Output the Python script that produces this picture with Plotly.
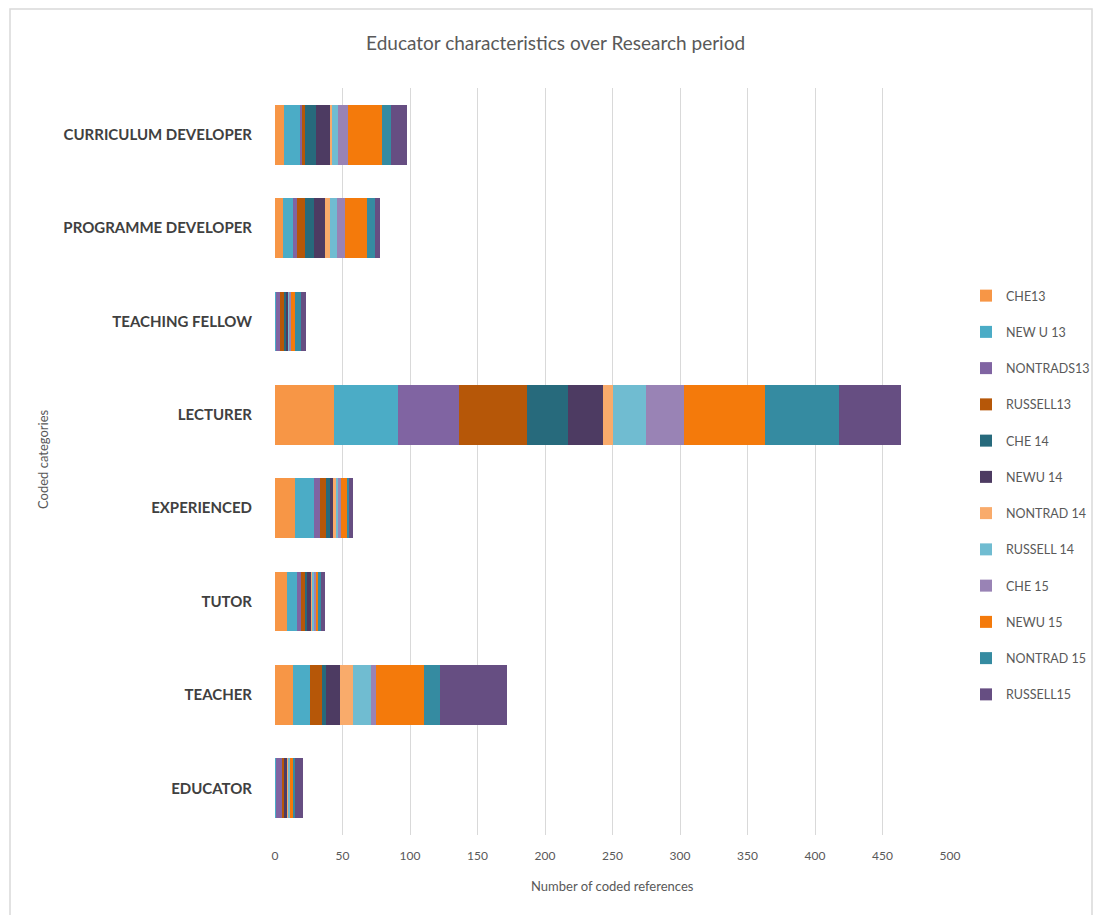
import plotly.graph_objects as go

categories = ["CURRICULUM DEVELOPER", "PROGRAMME DEVELOPER", "TEACHING FELLOW", "LECTURER",
              "EXPERIENCED", "TUTOR", "TEACHER", "EDUCATOR"]

series_names = ["CHE13", "NEW U 13", "NONTRADS13", "RUSSELL13", "CHE 14", "NEWU 14",
                "NONTRAD 14", "RUSSELL 14", "CHE 15", "NEWU 15", "NONTRAD 15", "RUSSELL15"]

# values per category, in the order of `categories`
che13      = [7, 6, 0, 44, 15, 9, 13, 0]
newu13     = [12, 7, 1, 47, 14, 7, 13, 1]
nontrads13 = [1, 3, 3, 45, 4, 3, 0, 4]
russell13  = [2, 6, 3, 51, 5, 3, 9, 2]
che14      = [8, 7, 1, 30, 3, 2, 3, 0]
newu14     = [11, 8, 2, 26, 2, 3, 10, 2]
nontrad14  = [1, 4, 0, 7, 2, 1, 10, 1]
russell14  = [5, 5, 1, 25, 2, 1, 13, 1]
che15      = [7, 6, 1, 28, 2, 1, 4, 0]
newu15     = [25, 16, 3, 60, 5, 2, 35, 2]
nontrad15  = [7, 6, 4, 55, 1, 2, 12, 2]
russell15  = [12, 4, 4, 46, 3, 3, 50, 6]

series_values = [che13, newu13, nontrads13, russell13, che14, newu14,
                 nontrad14, russell14, che15, newu15, nontrad15, russell15]

colors = ["#F79646", "#4BACC6", "#8064A2", "#B65708", "#276A7C", "#4D3B62",
          "#F9AB6B", "#70BCD1", "#9983B5", "#F47A0B", "#358BA1", "#664E82"]

x_ticks = [0, 50, 100, 150, 200, 250, 300, 350, 400, 450, 500]

FONT = "Lato, 'Open Sans', sans-serif"
GRAY = "#595959"

fig = go.Figure()
for name, vals, col in zip(series_names, series_values, colors):
    fig.add_trace(go.Bar(
        y=categories, x=vals, name=name, orientation="h",
        marker=dict(color=col, line=dict(width=0)),
        legendgroup=name,
    ))

fig.update_layout(
    barmode="stack",
    bargap=0.36,
    width=1098, height=915,
    paper_bgcolor="white", plot_bgcolor="white",
    margin=dict(l=275, r=148, t=88, b=80, autoexpand=False),
    font=dict(family=FONT, color=GRAY, size=12),
    title=dict(text="Educator characteristics over Research period",
               x=0.506, xref="container", xanchor="center",
               y=1 - 43 / 915, yref="container", yanchor="middle",
               font=dict(size=19, color=GRAY, family=FONT)),
    showlegend=True,
    legend=dict(xref="container", x=966 / 1098, xanchor="left",
                yref="container", y=1 - 281 / 915, yanchor="top",
                traceorder="grouped", tracegroupgap=17,
                font=dict(size=12.5, color=GRAY, family=FONT),
                itemwidth=30, bgcolor="rgba(0,0,0,0)"),
    xaxis=dict(range=[0, 500], tickvals=x_ticks, ticktext=[str(v) for v in x_ticks],
               showgrid=True, gridcolor="#D9D9D9", gridwidth=1, zeroline=False,
               showline=False, ticks="", ticklabelstandoff=12,
               tickfont=dict(size=12, color=GRAY, family=FONT), fixedrange=True),
    yaxis=dict(autorange="reversed", showgrid=False, zeroline=False,
               showline=False, ticks="", ticklabelstandoff=22,
               tickfont=dict(size=15, color="#404040", family=FONT, weight="bold")),
    annotations=[
        dict(text="Number of coded references", xref="paper", yref="paper",
             x=0.5, y=-(886 - 835) / 747, xanchor="center", yanchor="middle",
             showarrow=False, font=dict(size=13, color=GRAY, family=FONT)),
        dict(text="Coded categories", xref="paper", yref="paper",
             x=-(275 - 43) / 675, y=0.5 + (461.5 - 460) / 747, xanchor="center", yanchor="middle",
             textangle=-90, showarrow=False, font=dict(size=13, color=GRAY, family=FONT)),
    ],
    shapes=[dict(type="rect", xref="paper", yref="paper",
                 x0=-(275 - 10) / 675, x1=(1092 - 275) / 675,
                 y0=-(930 - 835) / 747, y1=(835 - 9) / 747,
                 line=dict(color="#D9D9D9", width=1.5), fillcolor="rgba(0,0,0,0)",
                 layer="below")],
)

fig.write_html("out.html")
